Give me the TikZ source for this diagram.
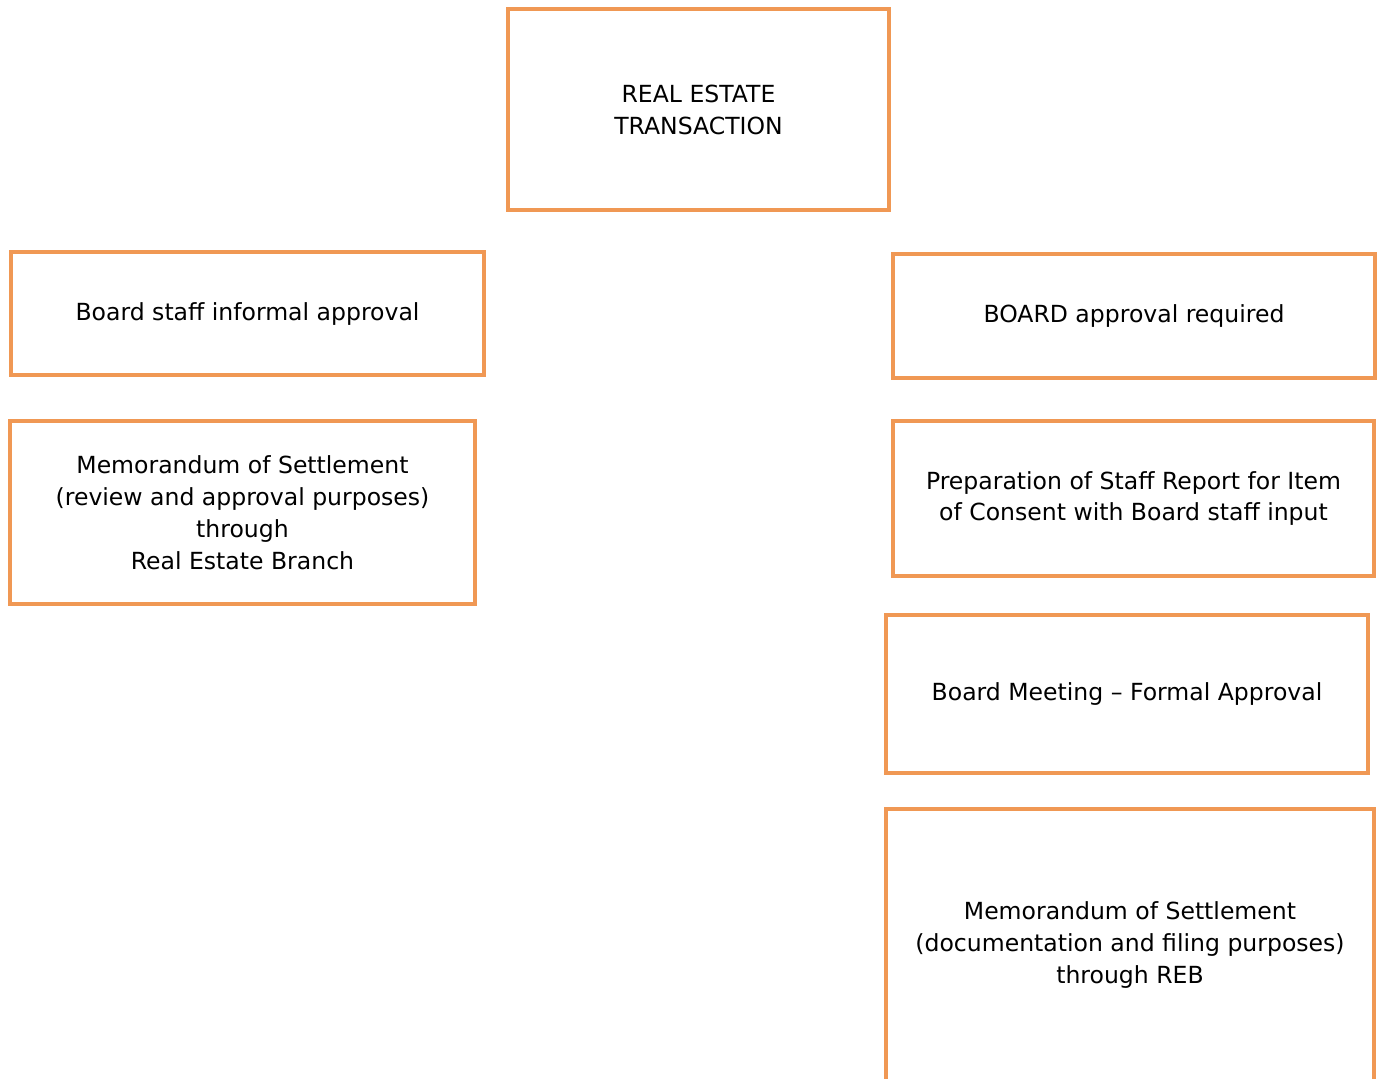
\documentclass[tikz,border=0pt]{standalone}
\usepackage{fontspec}
\setmainfont{DejaVu Sans}
\usepackage{tikz}
\usetikzlibrary{positioning}
\definecolor{boxorange}{RGB}{240,152,84}
\tikzset{
	stagebox/.style={rectangle,draw=boxorange,line width=2pt,align=center,
		font=\fontsize{13.4}{18.2}\selectfont,inner sep=0pt},
}

\begin{document}
\begin{tikzpicture}[x=0.02cm,y=-0.02cm]
		\useasboundingbox[fill=white] (0,0) rectangle (1377,1079);
		\node[stagebox,minimum width=7.62cm,minimum height=4.02cm] (ret) at (698.5,109.5) {REAL ESTATE\\TRANSACTION};
		\node[stagebox,minimum width=9.46cm,minimum height=2.46cm] (informal) at (247.5,313.5) {Board staff informal approval};
		\node[stagebox,minimum width=9.30cm,minimum height=3.66cm] (memoreview) at (242.5,512.5) {Memorandum of Settlement\\(review and approval purposes)\\through\\Real Estate Branch};
		\node[stagebox,minimum width=9.64cm,minimum height=2.48cm] (boardreq) at (1134,316) {BOARD approval required};
		\node[stagebox,minimum width=9.62cm,minimum height=3.10cm] (staffrep) at (1133.5,498.5) {Preparation of Staff Report for Item\\of Consent with Board staff input};
		\node[stagebox,minimum width=9.64cm,minimum height=3.16cm] (meeting) at (1127,694) {Board Meeting -- Formal Approval};
		\node[stagebox,minimum width=9.76cm,minimum height=5.44cm] (memofile) at (1130,945) {Memorandum of Settlement\\(documentation and filing purposes)\\through REB};
	\end{tikzpicture}
\end{document}
